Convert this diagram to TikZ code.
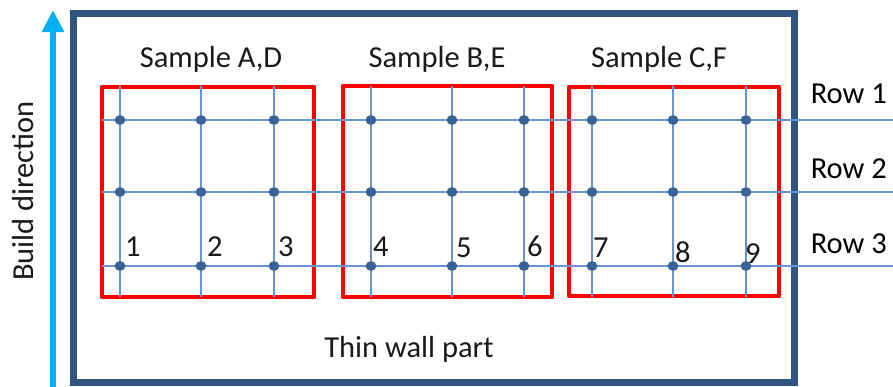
\documentclass[tikz,border=0pt]{standalone}
\usepackage{fontspec}
\setmainfont{Carlito}
\usetikzlibrary{arrows.meta}
\definecolor{framecol}{RGB}{47,84,130}
\definecolor{gridcol}{RGB}{105,148,208}
\definecolor{dotcol}{RGB}{58,98,152}
\definecolor{buildcol}{RGB}{0,176,240}
\definecolor{txtcol}{RGB}{25,25,25}
\tikzset{
  lbl/.style={inner sep=0pt, text=txtcol, font=\fontsize{30.5}{36}\selectfont},
  samplebox/.style={draw=red, line width=4.5pt, line join=round},
  gridline/.style={draw=gridcol, line width=1.8pt},
  probe/.style={fill=dotcol, draw=none},
}
\begin{document}
\begin{tikzpicture}[x=1pt,y=-1pt]
\useasboundingbox (0,0) rectangle (893,386);
% build direction arrow and label
\draw[buildcol, line width=5.5pt, -{Triangle[width=21pt,length=22pt]}] (53,392) -- (53,10);
\node[lbl, rotate=90, anchor=base] (build) at (33,191) {Build direction};
% thin wall part outline
\draw[framecol, line width=7pt] (73.5,13) rectangle (794,382);
\node[lbl, anchor=base] (wall) at (409,357) {Thin wall part};
% sample outlines
\draw[samplebox] (102,87) rectangle (314,297);
\draw[samplebox] (343,86) rectangle (552,297);
\draw[samplebox] (569,87) rectangle (779,296);
\node[lbl, anchor=base] (sA) at (211,67) {Sample A,D};
\node[lbl, anchor=base] (sB) at (437,67) {Sample B,E};
\node[lbl, anchor=base] (sC) at (659,67) {Sample C,F};
% measurement rows
\foreach \y in {120,192,266}{
  \draw[gridline] (102,\y) -- (893,\y);
}
% measurement columns
\foreach \x in {120,201,274,371,452,524,592,673,746}{
  \draw[gridline] (\x,86) -- (\x,297);
  \foreach \y in {120,192,266}{
    \fill[probe] (\x,\y) ellipse (5.4pt and 4.9pt);
  }
}
% row labels
\node[lbl, anchor=base east, text=black] (r1) at (887,103) {Row 1};
\node[lbl, anchor=base east, text=black] (r2) at (887,178) {Row 2};
\node[lbl, anchor=base east, text=black] (r3) at (887,253) {Row 3};
% position numbers
\node[lbl, anchor=base west] (n1) at (125,256) {1};
\node[lbl, anchor=base west] (n2) at (207,256) {2};
\node[lbl, anchor=base west] (n3) at (278,256) {3};
\node[lbl, anchor=base west] (n4) at (373,256) {4};
\node[lbl, anchor=base west] (n5) at (456,257) {5};
\node[lbl, anchor=base west] (n6) at (527,256) {6};
\node[lbl, anchor=base west] (n7) at (593,257) {7};
\node[lbl, anchor=base west] (n8) at (675,262) {8};
\node[lbl, anchor=base west] (n9) at (745,263) {9};
\end{tikzpicture}
\end{document}
